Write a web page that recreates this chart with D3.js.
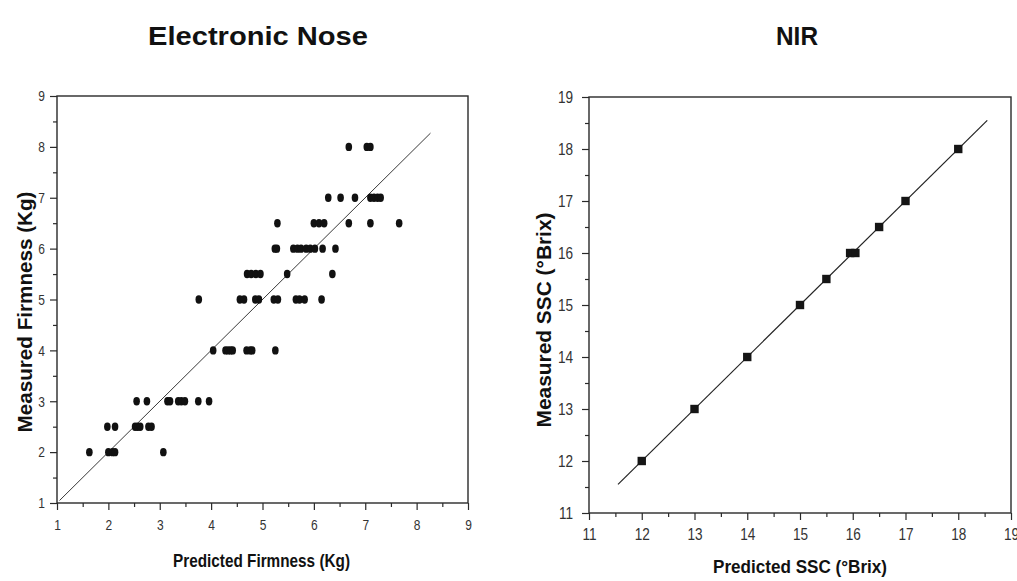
<!DOCTYPE html>
<html>
<head>
<meta charset="utf-8">
<script src="https://cdn.jsdelivr.net/npm/d3@7"></script>
<style>
  html, body { margin: 0; padding: 0; background: #fff; }
  svg { display: block; }
  text { font-family: "Liberation Sans", Arial, sans-serif; }
</style>
</head>
<body>
<script>
// ---------- Data ----------
// Electronic Nose: predicted vs measured firmness (Kg)
const firmPredicted = [
  1.63, 2.00, 2.08, 2.13, 3.07,
  1.98, 2.13, 2.52, 2.57, 2.62, 2.78, 2.84,
  2.55, 2.75, 3.15, 3.20, 3.36, 3.42, 3.49, 3.75, 3.96,
  4.04, 4.28, 4.33, 4.38, 4.42, 4.69, 4.76, 4.80, 5.25,
  3.76, 4.56, 4.64, 4.86, 4.93, 5.22, 5.30, 5.65, 5.72, 5.82, 6.15,
  4.70, 4.78, 4.87, 4.96, 5.48, 6.36,
  5.24, 5.28, 5.60, 5.68, 5.75, 5.85, 5.93, 6.02, 6.17, 6.42,
  5.29, 6.00, 6.10, 6.20, 6.68, 7.10, 7.66,
  6.28, 6.52, 6.80, 7.10, 7.17, 7.24, 7.30,
  6.68, 7.03, 7.10
];
const firmMeasured = [
  2, 2, 2, 2, 2,
  2.5, 2.5, 2.5, 2.5, 2.5, 2.5, 2.5,
  3, 3, 3, 3, 3, 3, 3, 3, 3,
  4, 4, 4, 4, 4, 4, 4, 4, 4,
  5, 5, 5, 5, 5, 5, 5, 5, 5, 5, 5,
  5.5, 5.5, 5.5, 5.5, 5.5, 5.5,
  6, 6, 6, 6, 6, 6, 6, 6, 6, 6,
  6.5, 6.5, 6.5, 6.5, 6.5, 6.5, 6.5,
  7, 7, 7, 7, 7, 7, 7,
  8, 8, 8
];
const firmFitLine = [1.05, 8.27];
const firmTicks = [1, 2, 3, 4, 5, 6, 7, 8, 9];
const firmMinorTicks = [1.5, 2.5, 3.5, 4.5, 5.5, 6.5, 7.5, 8.5];

// NIR: predicted vs measured SSC (°Brix)
const sscPredicted = [12, 13, 14, 15, 15.5, 15.95, 16.05, 16.5, 17, 18];
const sscMeasured  = [12, 13, 14, 15, 15.5, 16, 16, 16.5, 17, 18];
const sscFitLine = [11.55, 18.55];
const sscTicks = [11, 12, 13, 14, 15, 16, 17, 18, 19];
const sscMinorTicks = [11.5, 12.5, 13.5, 14.5, 15.5, 16.5, 17.5, 18.5];

const titles = ["Electronic Nose", "NIR"];
const xTitles = ["Predicted Firmness (Kg)", "Predicted SSC (°Brix)"];
const yTitles = ["Measured Firmness (Kg)", "Measured SSC (°Brix)"];

// ---------- Drawing ----------
const W = 1017, H = 581;
const svg = d3.select("body").append("svg").attr("width", W).attr("height", H);

function panel(cfg) {
  const x = d3.scaleLinear().domain(cfg.domain).range([cfg.x0, cfg.x1]);
  const y = d3.scaleLinear().domain(cfg.domain).range([cfg.y0, cfg.y1]);
  const g = svg.append("g");
  const ink = "#2a2a2a";
  const sx = 0.8;

  // minor ticks
  g.append("g").attr("transform", `translate(0,${cfg.y0})`)
    .call(d3.axisBottom(x).tickValues(cfg.minor).tickSize(4).tickFormat(""))
    .call(s => { s.select(".domain").remove(); s.selectAll("line").attr("stroke", ink).attr("stroke-width", 1.2); });
  g.append("g").attr("transform", `translate(${cfg.x0},0)`)
    .call(d3.axisLeft(y).tickValues(cfg.minor).tickSize(4).tickFormat(""))
    .call(s => { s.select(".domain").remove(); s.selectAll("line").attr("stroke", ink).attr("stroke-width", 1.2); });

  // major ticks with labels
  g.append("g").attr("transform", `translate(0,${cfg.y0})`)
    .call(d3.axisBottom(x).tickValues(cfg.ticks).tickSize(7).tickPadding(cfg.xPad))
    .call(s => {
      s.select(".domain").remove();
      s.selectAll("line").attr("stroke", ink).attr("stroke-width", 1.2);
      s.selectAll("text").attr("fill", "#333").attr("font-size", cfg.tickFont)
        .attr("font-family", "'Liberation Sans', Arial, sans-serif")
        .attr("transform", `scale(${sx},1)`);
    });
  g.append("g").attr("transform", `translate(${cfg.x0},0)`)
    .call(d3.axisLeft(y).tickValues(cfg.ticks).tickSize(7))
    .call(s => {
      s.select(".domain").remove();
      s.selectAll("line").attr("stroke", ink).attr("stroke-width", 1.2);
      s.selectAll("text").attr("fill", "#333").attr("font-size", cfg.tickFont)
        .attr("font-family", "'Liberation Sans', Arial, sans-serif")
        .attr("x", -cfg.yGap / sx)
        .attr("transform", `scale(${sx},1)`);
    });

  // frame
  g.append("rect")
    .attr("x", cfg.x0).attr("y", cfg.y1)
    .attr("width", cfg.x1 - cfg.x0).attr("height", cfg.y0 - cfg.y1)
    .attr("fill", "none").attr("stroke", ink).attr("stroke-width", 1.4);

  // fit line
  g.append("line")
    .attr("x1", x(cfg.fit[0])).attr("y1", y(cfg.fit[0]))
    .attr("x2", x(cfg.fit[1])).attr("y2", y(cfg.fit[1]))
    .attr("stroke", "#222").attr("stroke-width", cfg.lineW);

  // points
  const pts = cfg.px.map((v, i) => ({ p: v, m: cfg.py[i] }));
  if (cfg.marker === "ellipse") {
    g.append("g").selectAll("ellipse").data(pts).join("ellipse")
      .attr("cx", d => x(d.p)).attr("cy", d => y(d.m))
      .attr("rx", 3.3).attr("ry", 4.2).attr("fill", "#111");
  } else {
    g.append("g").selectAll("rect").data(pts).join("rect")
      .attr("x", d => x(d.p) - 4.2).attr("y", d => y(d.m) - 4.2)
      .attr("width", 8.4).attr("height", 8.4).attr("fill", "#151515");
  }

  // titles
  svg.append("text").attr("x", cfg.titleX).attr("y", 45)
    .attr("text-anchor", "middle").attr("font-size", 25).attr("font-weight", "bold")
    .attr("fill", "#111")
    .attr("textLength", cfg.titleLen).attr("lengthAdjust", "spacingAndGlyphs")
    .text(cfg.title);
  svg.append("text").attr("x", cfg.xTitleX).attr("y", cfg.xTitleY)
    .attr("text-anchor", "middle").attr("font-size", 18).attr("font-weight", "bold")
    .attr("fill", "#111")
    .attr("textLength", cfg.xTitleLen).attr("lengthAdjust", "spacingAndGlyphs")
    .text(cfg.xTitle);
  svg.append("text")
    .attr("transform", `translate(${cfg.yTitleX},${cfg.yTitleY}) rotate(-90)`)
    .attr("text-anchor", "middle").attr("font-size", 21).attr("font-weight", "bold")
    .attr("fill", "#111")
    .attr("textLength", cfg.yTitleLen).attr("lengthAdjust", "spacingAndGlyphs")
    .text(cfg.yTitle);
}

panel({
  domain: [1, 9], x0: 57, x1: 468, y0: 503, y1: 96,
  ticks: firmTicks, minor: firmMinorTicks, tickFont: 15, xPad: 9, yGap: 12,
  fit: firmFitLine, lineW: 0.9,
  px: firmPredicted, py: firmMeasured, marker: "ellipse",
  title: titles[0], titleX: 258, titleLen: 220,
  xTitle: xTitles[0], xTitleX: 261.5, xTitleY: 567, xTitleLen: 177,
  yTitle: yTitles[0], yTitleX: 32, yTitleY: 312, yTitleLen: 241
});

panel({
  domain: [11, 19], x0: 589, x1: 1011, y0: 513, y1: 97,
  ticks: sscTicks, minor: sscMinorTicks, tickFont: 17, xPad: 8, yGap: 16,
  fit: sscFitLine, lineW: 1.2,
  px: sscPredicted, py: sscMeasured, marker: "square",
  title: titles[1], titleX: 797, titleLen: 42,
  xTitle: xTitles[1], xTitleX: 800, xTitleY: 573, xTitleLen: 174,
  yTitle: yTitles[1], yTitleX: 551, yTitleY: 320, yTitleLen: 215
});
</script>
</body>
</html>
